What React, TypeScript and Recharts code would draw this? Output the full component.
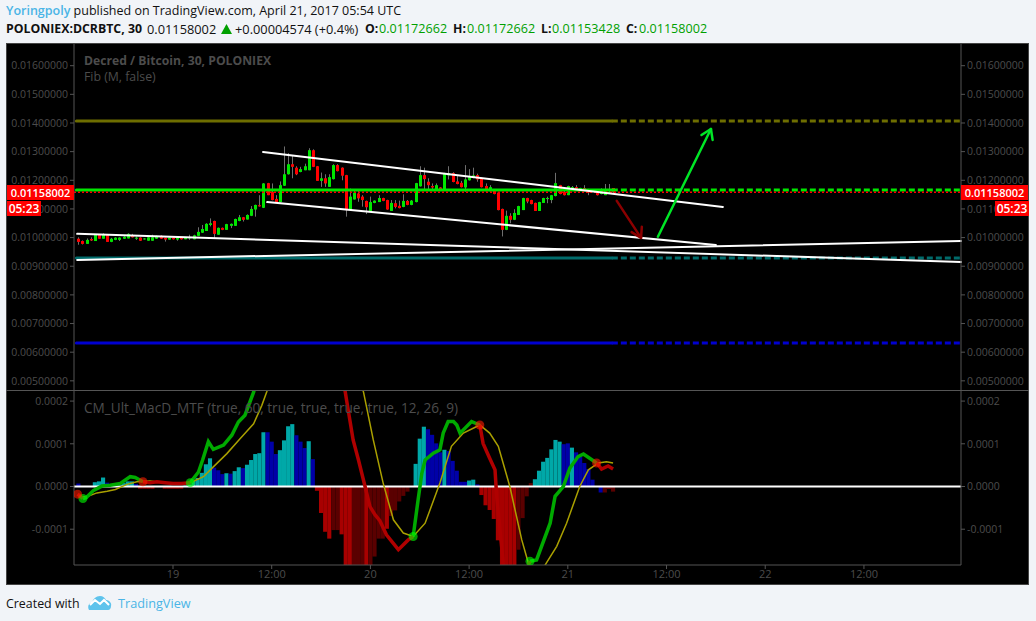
import React from "react";
import { ComposedChart, Bar, Line, XAxis, YAxis, ReferenceLine } from "recharts";

// x is the 30 minute bar number, 0 = Apr 19 00:00. prices are in 1e-5 BTC, macd in 1e-6
const firstBar = -23;
const xDomain = [-24.07, 191.6];
const priceDomain = [468, 1675.7];
const macdDomain = [-183.8, 223.6];

const priceTicks = [500, 600, 700, 800, 900, 1000, 1100, 1200, 1300, 1400, 1500, 1600];
const macdTicks = [-100, 0, 100, 200];
const timeTicks = [0, 24, 48, 72, 96, 120, 144, 168];
const timeLabels = ["19", "12:00", "20", "12:00", "21", "12:00", "22", "12:00"];

const opens = [996,988,978,995,988,1010,996,1010,985,992,992,996,997,1007,996,1000,994,989,989,996,1006,999,993,999,993,999,994,999,994,1006,1017,1023,1044,1058,1010,1034,1027,1041,1041,1058,1071,1063,1076,1098,1113,1104,1190,1159,1135,1124,1181,1221,1256,1244,1229,1235,1235,1305,1249,1198,1207,1177,1204,1253,1244,1218,1096,1133,1154,1143,1128,1091,1121,1124,1138,1131,1093,1120,1111,1107,1128,1114,1124,1179,1218,1195,1180,1169,1175,1168,1217,1225,1196,1191,1175,1200,1208,1218,1208,1180,1162,1166,1157,1100,1027,1076,1062,1079,1096,1138,1131,1121,1093,1121,1136,1131,1145,1183,1159,1148,1166,1176,1166,1173,1169,1159,1160,1152,1148,1154,1173];
const closes = [985,978,992,990,1010,996,1010,985,996,1000,1000,1003,1013,1001,1000,989,997,1001,1001,1006,996,993,1000,994,1000,994,1001,1001,1008,1020,1030,1048,1050,1013,1034,1027,1047,1048,1065,1071,1062,1079,1100,1114,1109,1189,1148,1131,1124,1183,1221,1256,1247,1221,1239,1249,1305,1247,1198,1207,1189,1211,1253,1232,1216,1096,1143,1157,1137,1131,1106,1124,1129,1138,1128,1098,1121,1107,1103,1128,1114,1129,1190,1218,1204,1183,1175,1183,1169,1225,1225,1194,1187,1176,1203,1214,1217,1203,1176,1162,1176,1152,1096,1027,1076,1062,1086,1110,1138,1126,1117,1093,1124,1138,1138,1148,1190,1152,1148,1180,1176,1166,1173,1166,1157,1166,1148,1166,1166,1160,1158];
const highs = [1001,990,997,1001,1011,1012,1015,1011,999,1001,1001,1005,1015,1013,1004,1001,998,1002,1010,1007,1008,1000,1001,1000,1001,1000,1002,1010,1010,1036,1044,1050,1067,1059,1035,1035,1048,1049,1066,1079,1072,1081,1110,1115,1148,1190,1191,1189,1148,1196,1318,1295,1287,1249,1247,1258,1312,1308,1250,1227,1221,1221,1256,1256,1245,1219,1171,1166,1166,1148,1129,1143,1130,1148,1139,1132,1131,1131,1129,1151,1131,1131,1191,1249,1244,1207,1189,1189,1176,1226,1249,1228,1218,1198,1253,1239,1244,1223,1209,1189,1183,1167,1158,1101,1094,1085,1099,1111,1139,1139,1132,1122,1125,1139,1143,1149,1226,1184,1166,1181,1180,1183,1174,1183,1170,1167,1161,1172,1187,1187,1173];
const lows = [975,976,978,988,988,996,996,985,984,991,988,995,997,1000,992,988,993,989,989,995,995,986,993,993,989,993,994,992,994,1005,1016,1023,1039,998,1010,1026,1027,1033,1041,1057,1056,1063,1075,1073,1108,1103,1148,1130,1123,1123,1180,1220,1207,1218,1228,1235,1235,1246,1198,1177,1177,1177,1203,1231,1200,1073,1096,1133,1125,1108,1082,1091,1120,1124,1127,1097,1093,1102,1102,1106,1113,1113,1123,1178,1166,1166,1166,1168,1168,1167,1203,1193,1186,1175,1160,1199,1207,1195,1175,1161,1161,1151,1095,1004,1026,1050,1061,1079,1096,1120,1116,1093,1093,1121,1120,1120,1144,1151,1147,1148,1165,1165,1165,1165,1148,1158,1147,1151,1148,1153,1153];

const histValues = [7,1,1,1,10,12,21,9,6,6,6,8,12,12,6,-5,-5,-5,-5,-2,-2,-5,-5,-5,-5,-5,2,5,15,20,32,52,66,44,38,29,31,30,36,45,43,51,62,76,78,127,127,105,76,85,108,141,146,120,105,90,106,64,-10,-62,-106,-122,-102,-102,-112,-190,-190,-190,-190,-190,-190,-190,-164,-122,-122,-99,-69,-56,-35,-22,-12,0,53,112,140,134,121,101,80,86,83,60,37,11,11,14,16,5,-20,-44,-55,-76,-126,-190,-190,-190,-190,-148,-74,-23,8,17,37,58,67,87,109,105,99,101,91,80,70,55,41,16,0,-14,-14,-6,-12];
const histKinds = "bbbbcccbbbbcccbrrrrddrrrrrcccccccbbbcbccbcccccbbbccccbbbcbrrrrddrrrdddrddddrddddddcccbbbbcbbbbbccbrrrrrrrrrddddcccccccbbcbbbbbbbdddr".split("");
const histColors: Record<string, string> = { c: "#00a8a8", b: "#0000a8", r: "#a80000", d: "#5a0000" };

// macd line, [bar, value], cut where it changes colour
const macdGreen = [
  [[-21.9, -28], [-21.1, -26], [-19.3, -9], [-17.3, 1], [-15.3, 3], [-12.8, 7], [-10.4, 23], [-9.2, 21], [-7.3, 11]],
  [[4.2, 9], [6.2, 34], [7.2, 62], [8.6, 105], [9.8, 87], [12.3, 97], [14.3, 120], [15.9, 151], [17.5, 167], [19.6, 221], [21, 270], [26, 380], [32, 420], [38, 400], [41.8, 226]],
  [[58.4, -117], [59.6, -31], [60.5, 31], [61.3, 62], [63.3, 78], [64.9, 86], [65.7, 125], [66.9, 152], [68.2, 152], [69, 144], [69.8, 125], [72.6, 152], [74.6, 144]],
  [[86.8, -175], [88.4, -172], [91.7, -86], [92.9, -23], [94.9, 0], [96.5, 43], [98.5, 70], [99.8, 76], [103, 55]],
];
const macdRed = [
  [[-23.2, -18], [-21.9, -28]],
  [[-7.3, 11], [-5.6, 9], [-3.9, 11], [-1.9, 9], [0, 7], [2.1, 7], [4.2, 9]],
  [[41.8, 226], [42.6, 179], [43.8, 109], [45.1, 62], [46.7, 0], [47.9, -47], [49.1, -66], [50.3, -80], [51.9, -113], [54.8, -148], [57.2, -125], [58.4, -117]],
  [[74.6, 144], [75.4, 101], [77, 66], [78.3, 39], [78.7, -23], [80.3, -179], [80.7, -210], [82, -260], [84, -230], [86, -195], [86.8, -175]],
  [[103, 55], [104.2, 41], [105.8, 48], [107, 41]],
];
const signalLine = [[-23, -24], [-21, -24], [-18.5, -15], [-16, -11], [-14, -7], [-11.2, 5], [-8.8, 11], [-5.6, 13], [-2.3, 9], [1.7, 7], [4.2, 9], [7.4, 23], [9.8, 46], [13.1, 77], [16.3, 112], [19.6, 147], [21.6, 190], [22.8, 222], [24, 260], [30, 330], [38, 390], [44, 290], [46.3, 222], [48.7, 109], [51.1, 8], [53.6, -78], [56, -109], [58.4, -117], [61.3, -86], [64.9, 8], [67.7, 94], [70.6, 125], [74.6, 144], [77, 125], [79.1, 94], [81.9, 0], [84.8, -125], [86.4, -179], [87.2, -210], [88.5, -215], [90.8, -179], [93.3, -140], [95.7, -86], [98.9, 0], [101, 39], [103.4, 55], [105.4, 58], [107, 55]];
const crossUp = [[-21.9, -28], [4.2, 9], [58.4, -117], [86.8, -175]];
const crossDown = [[-23.2, -18], [-7.3, 11], [74.6, 144], [103, 55]];

const fibLevels = [
  { price: 1407, color: "#6e6e00" },
  { price: 1166, color: "#00e600" },
  { price: 929, color: "#006b6b" },
  { price: 632, color: "#0000d0" },
];
const fibEnd = 106.7;
const lastClose = 1158;

const trendLines = [
  [21.9, 1299, 133.7, 1107],
  [22.9, 1124, 132, 974],
  [-23.3, 1013, 191.6, 915],
  [-23.3, 922, 191.6, 988],
];
const greenArrow = [
  [117.9, 1003, 130.8, 1379],
  [128.5, 1358, 130.8, 1379],
  [131.2, 1341, 130.8, 1379],
];
const redArrow = [
  [107.9, 1128, 113.8, 999],
  [111.5, 1019, 113.8, 999],
  [114, 1038, 113.8, 999],
];

const candles = opens.map((open, k) => ({
  i: firstBar + k,
  open,
  close: closes[k],
  high: highs[k],
  low: lows[k],
}));
const histRows = histValues.map((hist, k) => ({ i: firstBar + k, hist, kind: histKinds[k] }));
const toPoints = (pts: number[][]) => pts.map(([i, v]) => ({ i, v }));

const FONT = "'Open Sans', sans-serif";
const AXIS = "#555";
const LABEL = "#4c4c4c";
const tickStyle = { fontSize: 10.5, fill: LABEL, fontFamily: FONT };

const Candle = (props: any) => {
  const { x, y, width, height, payload } = props;
  const up = payload.close >= payload.open;
  const perUnit = height / (payload.high - payload.low);
  const top = y + (payload.high - Math.max(payload.open, payload.close)) * perUnit;
  const bodyH = Math.abs(payload.open - payload.close) * perUnit;
  const cx = Math.round(x + width / 2);
  return (
    <g>
      <line x1={cx + 0.5} x2={cx + 0.5} y1={y} y2={y + height} stroke="#6e6e6e" />
      <rect x={cx - 1} y={top} width={3} height={Math.max(bodyH, 1)} fill={up ? "#00e600" : "#ff0000"} />
    </g>
  );
};

// the line series on this chart have fractional x, which shrinks the band, so width is set here
const HistBar = (props: any) => {
  const { x, y, width, height, payload } = props;
  return (
    <rect
      x={x + width / 2 - 2.06}
      y={Math.min(y, y + height)}
      width={4.12}
      height={Math.abs(height)}
      fill={histColors[payload.kind]}
    />
  );
};

const segmentLine = (s: number[], key: string, color: string, width: number) => (
  <ReferenceLine
    key={key}
    yAxisId="left"
    segment={[{ x: s[0], y: s[1] }, { x: s[2], y: s[3] }]}
    stroke={color}
    strokeWidth={width}
    strokeLinecap="round"
  />
);

const priceLabel = (left: number, top: number, width: number, text: string, size = 11) => (
  <div
    style={{
      position: "absolute",
      left,
      top,
      width,
      height: 15,
      lineHeight: "15px",
      background: "#ff0000",
      color: "#fff",
      fontSize: size,
      fontWeight: 600,
      textAlign: "center",
    }}
  >
    {text}
  </div>
);

const absText = (left: number, top: number, text: string, style: React.CSSProperties = {}) => (
  <div style={{ position: "absolute", left, top, whiteSpace: "nowrap", fontSize: 12, lineHeight: "16px", ...style }}>{text}</div>
);

const value = { fontSize: 12.8 };
const green = { color: "#00a000", fontSize: 12.6 };
const bold = { fontWeight: 700, fontSize: 12.3 };

export default function App() {
  return (
    <div
      style={{
        position: "absolute",
        left: 0,
        top: 0,
        width: 1036,
        height: 621,
        overflow: "hidden",
        background: "#f1f4f8",
        color: "#111",
        fontFamily: FONT,
      }}
    >
      <div style={{ position: "absolute", left: 6, top: 3, whiteSpace: "nowrap", fontSize: 12.5, lineHeight: "16px" }}>
        <span style={{ color: "#4ab4e6", fontWeight: 600 }}>Yoringpoly</span> published on TradingView.com, April 21, 2017 05:54 UTC
      </div>
      {absText(6, 21, "POLONIEX:DCRBTC, 30", bold)}
      {absText(147, 21, "0.01158002", value)}
      <svg style={{ position: "absolute", left: 221, top: 24 }} width={11} height={10}>
        <polygon points="5.5,0 11,10 0,10" fill="#00a000" />
      </svg>
      {absText(235, 21, "+0.00004574 (+0.4%)", value)}
      {absText(365, 21, "O:", bold)}
      {absText(379, 21, "0.01172662", green)}
      {absText(453, 21, "H:", bold)}
      {absText(467, 21, "0.01172662", green)}
      {absText(541, 21, "L:", bold)}
      {absText(552, 21, "0.01153428", green)}
      {absText(626, 21, "C:", bold)}
      {absText(639, 21, "0.01158002", green)}

      <div
        style={{
          position: "absolute",
          left: 6,
          top: 43,
          width: 1023,
          height: 542,
          boxSizing: "border-box",
          background: "#000",
          border: "1px solid #444",
        }}
      />

      <div style={{ position: "absolute", left: 6, top: 44 }}>
        <ComposedChart
          width={1023}
          height={346}
          data={candles}
          margin={{ top: 0, right: 0, bottom: 0, left: 0 }}
        >
          <XAxis dataKey="i" type="number" domain={xDomain} allowDataOverflow hide />
          <YAxis
            yAxisId="left"
            width={68}
            domain={priceDomain}
            ticks={priceTicks}
            interval={0}
            allowDataOverflow
            tick={tickStyle}
            tickSize={4}
            tickMargin={2}
            stroke={AXIS}
            tickFormatter={(v: number) => (v / 1e5).toFixed(8)}
          />
          <YAxis
            yAxisId="right"
            orientation="right"
            width={68}
            domain={priceDomain}
            ticks={priceTicks}
            interval={0}
            allowDataOverflow
            tick={tickStyle}
            tickSize={4}
            tickMargin={2}
            stroke={AXIS}
            tickFormatter={(v: number) => (v / 1e5).toFixed(8)}
          />
          {fibLevels.map((f) => segmentLine([-23.5, f.price, fibEnd, f.price], "s" + f.price, f.color, 3))}
          {fibLevels.map((f) => (
            <ReferenceLine
              key={"d" + f.price}
              yAxisId="left"
              segment={[{ x: fibEnd, y: f.price }, { x: xDomain[1], y: f.price }]}
              stroke={f.color}
              strokeWidth={3}
              strokeDasharray="6 3"
            />
          ))}
          <Bar
            yAxisId="left"
            dataKey={(d: any) => [d.low, d.high]}
            barSize={4}
            shape={Candle}
            isAnimationActive={false}
          />
          <ReferenceLine
            yAxisId="left"
            y={lastClose}
            stroke="#ff0000"
            strokeWidth={1.5}
            strokeDasharray="2 2"
          />
          {trendLines.map((s, k) => segmentLine(s, "t" + k, "#ffffff", 2))}
          {greenArrow.map((s, k) => segmentLine(s, "g" + k, "#00e626", 2.5))}
          {redArrow.map((s, k) => segmentLine(s, "r" + k, "#8c0000", 2.5))}
        </ComposedChart>
      </div>

      <div style={{ position: "absolute", left: 6, top: 390, width: 1023, height: 1, background: AXIS }} />

      <div style={{ position: "absolute", left: 6, top: 391 }}>
        <ComposedChart
          width={1023}
          height={193}
          data={histRows}
          barCategoryGap={0}
          margin={{ top: 0, right: 0, bottom: 0, left: 0 }}
        >
          <XAxis
            dataKey="i"
            type="number"
            domain={xDomain}
            ticks={timeTicks}
            interval={0}
            allowDataOverflow
            height={19}
            tick={{ ...tickStyle, fontSize: 11 }}
            tickSize={4}
            tickMargin={1}
            stroke={AXIS}
            tickFormatter={(v: number) => timeLabels[timeTicks.indexOf(v)]}
          />
          <YAxis
            yAxisId="left"
            width={68}
            domain={macdDomain}
            ticks={macdTicks}
            interval={0}
            allowDataOverflow
            tick={tickStyle}
            tickSize={4}
            tickMargin={2}
            stroke={AXIS}
            tickFormatter={(v: number) => (v / 1e6).toFixed(4)}
          />
          <YAxis
            yAxisId="right"
            orientation="right"
            width={68}
            domain={macdDomain}
            ticks={macdTicks}
            interval={0}
            allowDataOverflow
            tick={tickStyle}
            tickSize={4}
            tickMargin={2}
            stroke={AXIS}
            tickFormatter={(v: number) => (v / 1e6).toFixed(4)}
          />
          <Bar yAxisId="left" dataKey="hist" shape={HistBar} isAnimationActive={false} />
          <ReferenceLine yAxisId="left" y={0} stroke="#ffffff" strokeWidth={2} />
          <Line
            yAxisId="left"
            data={toPoints(signalLine)}
            dataKey="v"
            stroke="#aaa000"
            strokeWidth={1.5}
            dot={false}
            isAnimationActive={false}
          />
          {macdGreen.map((seg, k) => (
            <Line
              key={"mg" + k}
              yAxisId="left"
              data={toPoints(seg)}
              dataKey="v"
              stroke="#00aa00"
              strokeWidth={3.5}
              dot={false}
              isAnimationActive={false}
            />
          ))}
          {macdRed.map((seg, k) => (
            <Line
              key={"mr" + k}
              yAxisId="left"
              data={toPoints(seg)}
              dataKey="v"
              stroke="#b00000"
              strokeWidth={3.5}
              dot={false}
              isAnimationActive={false}
            />
          ))}
          <Line
            yAxisId="left"
            data={toPoints(crossUp)}
            dataKey="v"
            stroke="none"
            dot={{ r: 4.5, fill: "#00ff00", fillOpacity: 0.6, stroke: "none" }}
            isAnimationActive={false}
          />
          <Line
            yAxisId="left"
            data={toPoints(crossDown)}
            dataKey="v"
            stroke="none"
            dot={{ r: 4.5, fill: "#ff1a00", fillOpacity: 0.6, stroke: "none" }}
            isAnimationActive={false}
          />
        </ComposedChart>
      </div>

      {absText(84, 53, "Decred / Bitcoin, 30, POLONIEX", { color: LABEL, fontWeight: 700, fontSize: 12.2 })}
      {absText(84, 69, "Fib (M, false)", { color: LABEL, fontSize: 12.3 })}
      {absText(84, 400, "CM_Ult_MacD_MTF (true, 60, true, true, true, true, 12, 26, 9)", { color: LABEL, fontSize: 13.6 })}

      {priceLabel(7, 185, 67, "0.01158002")}
      {priceLabel(7, 201, 34, "05:23", 12)}
      {priceLabel(961, 185, 67, "0.01158002")}
      {priceLabel(995, 201, 34, "05:23", 12)}

      {absText(6, 596, "Created with", { fontSize: 12.4 })}
      <svg style={{ position: "absolute", left: 88, top: 595 }} width={24} height={15} viewBox="0 0 24 15">
        <path
          d="M1 15 C-1 11 1 8 4 8 C5 4 8 1 12 1 C15 1 17 3 18 5 C21 5 24 8 23 11 C23 13 22 15 20 15 Z"
          fill="#5ec3ec"
        />
        <path d="M2 10 L7 5 L12 9 L16 5 L21 10" fill="none" stroke="#fff" strokeWidth={2} />
      </svg>
      {absText(118, 595, "TradingView", { color: "#4ab4e6", fontSize: 12.7 })}
    </div>
  );
}
